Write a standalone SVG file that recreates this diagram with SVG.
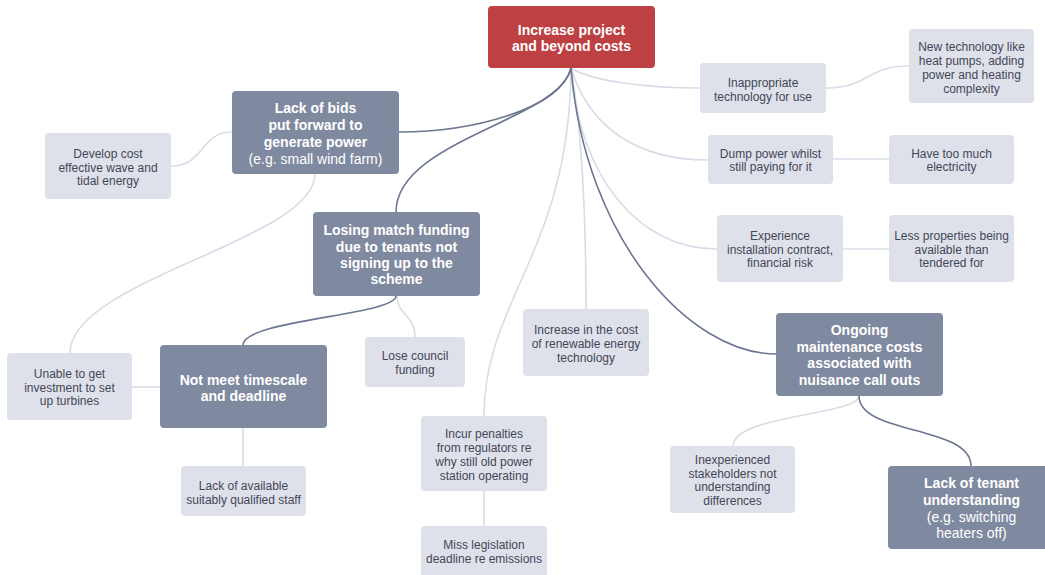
<svg xmlns="http://www.w3.org/2000/svg" width="1045" height="575" viewBox="0 0 1045 575">
<style>
.lt{fill:#dfe1ea}
.dk{fill:#7f899f}
.rt{fill:#bd4043}
.c1{fill:none;stroke:#d9dce6;stroke-width:1.6}
.c2{fill:none;stroke:#6b7690;stroke-width:1.6}
text{font-family:"Liberation Sans",Arial,sans-serif;text-anchor:middle}
.t1{font-size:12px;fill:#3f4757}
.t2{font-size:14px;fill:#ffffff;font-weight:bold}
.t3{font-size:14px;fill:#ffffff}
</style>
<rect width="1045" height="575" fill="#ffffff"/>
<g id="connectors">
<path class="c1" d="M571,68 C590,80 640,88 700,88"/>
<path class="c1" d="M571,68 C590,130 640,160 708,160"/>
<path class="c1" d="M571,68 C580,180 640,249 717,249"/>
<path class="c1" d="M571,68 C580,120 586,200 586,309"/>
<path class="c1" d="M571,68 C570,250 484,300 484,416"/>
<path class="c1" d="M232,132 C200,132 205,166 171,166"/>
<path class="c1" d="M315,174 C315,240 70,280 70,353"/>
<path class="c1" d="M397,296 C397,315 415,315 415,337"/>
<path class="c1" d="M160,387 L132,387"/>
<path class="c1" d="M243,428 L243,466"/>
<path class="c1" d="M484,491 L484,526"/>
<path class="c1" d="M826,88 C870,88 865,66 909,66"/>
<path class="c1" d="M833,159 L889,159"/>
<path class="c1" d="M843,249 L889,249"/>
<path class="c1" d="M859,396 C859,415 733,415 733,446"/>
<path class="c2" d="M571,68 C560,110 470,132 399,132"/>
<path class="c2" d="M571,68 C560,120 396,140 396,212"/>
<path class="c2" d="M571,68 C585,240 690,354 776,354"/>
<path class="c2" d="M396,296 C396,315 243,320 243,345"/>
<path class="c2" d="M859,396 C859,435 971,425 971,466"/>
</g>
<g id="root"><rect class="rt" x="488" y="6" width="167" height="62" rx="4"/>
<text class="t2" x="571.5" y="34.5">Increase project</text><text class="t2" x="571.5" y="51">and beyond costs</text></g>
<g id="lack-bids"><rect class="dk" x="232" y="91" width="167" height="83" rx="4"/>
<text class="t2" x="315.5" y="113">Lack of bids</text><text class="t2" x="315.5" y="130">put forward to</text><text class="t2" x="315.5" y="147">generate power</text><text class="t3" x="315.5" y="163.5">(e.g. small wind farm)</text></g>
<g id="develop"><rect class="lt" x="45" y="133" width="126" height="66" rx="4"/>
<text class="t1" x="108" y="157.5">Develop cost</text><text class="t1" x="108" y="171.5">effective wave and</text><text class="t1" x="108" y="185">tidal energy</text></g>
<g id="losing"><rect class="dk" x="313" y="212" width="167" height="84" rx="4"/>
<text class="t2" x="396.5" y="235">Losing match funding</text><text class="t2" x="396.5" y="251.5">due to tenants not</text><text class="t2" x="396.5" y="268">signing up to the</text><text class="t2" x="396.5" y="284">scheme</text></g>
<g id="not-meet"><rect class="dk" x="160" y="345" width="167" height="83" rx="4"/>
<text class="t2" x="243.5" y="384.5">Not meet timescale</text><text class="t2" x="243.5" y="401">and deadline</text></g>
<g id="unable"><rect class="lt" x="7" y="353" width="125" height="67" rx="4"/>
<text class="t1" x="69.5" y="377.5">Unable to get</text><text class="t1" x="69.5" y="391.5">investment to set</text><text class="t1" x="69.5" y="405">up turbines</text></g>
<g id="lose-council"><rect class="lt" x="365" y="337" width="100" height="50" rx="4"/>
<text class="t1" x="415" y="359.5">Lose council</text><text class="t1" x="415" y="373.5">funding</text></g>
<g id="lack-staff"><rect class="lt" x="181" y="466" width="125" height="50" rx="4"/>
<text class="t1" x="243.5" y="489.5">Lack of available</text><text class="t1" x="243.5" y="503.5">suitably qualified staff</text></g>
<g id="increase-cost"><rect class="lt" x="523" y="309" width="126" height="67" rx="4"/>
<text class="t1" x="586" y="333.5">Increase in the cost</text><text class="t1" x="586" y="347.5">of renewable energy</text><text class="t1" x="586" y="361.5">technology</text></g>
<g id="incur"><rect class="lt" x="421" y="416" width="126" height="75" rx="4"/>
<text class="t1" x="484" y="437.5">Incur penalties</text><text class="t1" x="484" y="451.5">from regulators re</text><text class="t1" x="484" y="465.5">why still old power</text><text class="t1" x="484" y="479.5">station operating</text></g>
<g id="miss"><rect class="lt" x="421" y="526" width="126" height="52" rx="4"/>
<text class="t1" x="484" y="548.5">Miss legislation</text><text class="t1" x="484" y="562.5">deadline re emissions</text></g>
<g id="inappropriate"><rect class="lt" x="700" y="63" width="126" height="50" rx="4"/>
<text class="t1" x="763" y="86.5">Inappropriate</text><text class="t1" x="763" y="100.5">technology for use</text></g>
<g id="new-tech"><rect class="lt" x="909" y="29" width="125" height="74" rx="4"/>
<text class="t1" x="971.5" y="50.5">New technology like</text><text class="t1" x="971.5" y="64.5">heat pumps, adding</text><text class="t1" x="971.5" y="78.5">power and heating</text><text class="t1" x="971.5" y="92.5">complexity</text></g>
<g id="dump"><rect class="lt" x="708" y="135" width="125" height="49" rx="4"/>
<text class="t1" x="770.5" y="157.5">Dump power whilst</text><text class="t1" x="770.5" y="171">still paying for it</text></g>
<g id="too-much"><rect class="lt" x="889" y="135" width="125" height="49" rx="4"/>
<text class="t1" x="951.5" y="157.5">Have too much</text><text class="t1" x="951.5" y="171">electricity</text></g>
<g id="experience"><rect class="lt" x="717" y="215" width="126" height="67" rx="4"/>
<text class="t1" x="780" y="239.5">Experience</text><text class="t1" x="780" y="253.5">installation contract,</text><text class="t1" x="780" y="267">financial risk</text></g>
<g id="less-props"><rect class="lt" x="889" y="215" width="125" height="67" rx="4"/>
<text class="t1" x="951.5" y="239.5">Less properties being</text><text class="t1" x="951.5" y="253.5">available than</text><text class="t1" x="951.5" y="267">tendered for</text></g>
<g id="ongoing"><rect class="dk" x="776" y="313" width="167" height="83" rx="4"/>
<text class="t2" x="859.5" y="335">Ongoing</text><text class="t2" x="859.5" y="351.5">maintenance costs</text><text class="t2" x="859.5" y="368">associated with</text><text class="t2" x="859.5" y="385">nuisance call outs</text></g>
<g id="inexperienced"><rect class="lt" x="670" y="446" width="125" height="67" rx="4"/>
<text class="t1" x="732.5" y="463.5">Inexperienced</text><text class="t1" x="732.5" y="477.5">stakeholders not</text><text class="t1" x="732.5" y="491">understanding</text><text class="t1" x="732.5" y="505">differences</text></g>
<g id="lack-tenant"><rect class="dk" x="888" y="466" width="167" height="83" rx="4"/>
<text class="t2" x="971.5" y="488">Lack of tenant</text><text class="t2" x="971.5" y="505">understanding</text><text class="t3" x="971.5" y="522">(e.g. switching</text><text class="t3" x="971.5" y="538">heaters off)</text></g>
</svg>
